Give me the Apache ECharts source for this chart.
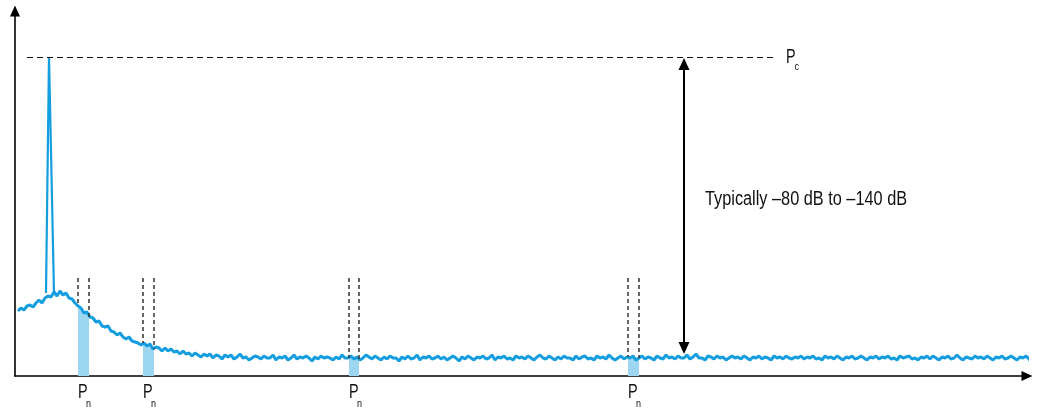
<!DOCTYPE html>
<html>
<head>
<meta charset="utf-8">
<script src="https://cdn.jsdelivr.net/npm/echarts@6/dist/echarts.min.js"></script>
<style>
  html, body { margin: 0; padding: 0; background: #fff; }
  #chart { width: 1038px; height: 408px; }
</style>
</head>
<body>
<div id="chart"></div>
<script>
// spectrum trace: x starts at 3, step 3 (same units as the x axis)
var traceStart = 3;
var traceStep = 3;
var traceLevel = [
    65, 68, 66, 70, 71, 69, 73, 76, 73, 78, 80, 79, 84, 80, 85, 81, 83, 78, 77, 73,
    70, 68, 63, 64, 59, 58, 54, 55, 50, 49, 50, 45, 44, 41, 43, 39, 37, 39, 35, 34,
    33, 31, 33, 30, 32, 27, 29, 28, 25, 28, 25, 27, 24, 25, 22, 25, 22, 23, 20, 23,
    21, 19, 22, 20, 22, 18, 21, 20, 17, 21, 19, 21, 17, 19, 22, 18, 19, 16, 18, 20,
    19, 17, 20, 18, 18, 21, 16, 19, 18, 20, 16, 18, 21, 17, 19, 18, 20, 18, 15, 19,
    17, 20, 18, 19, 18, 16, 19, 17, 21, 18, 18, 20, 17, 19, 16, 18, 21, 19, 17, 20,
    18, 16, 19, 17, 20, 18, 18, 15, 19, 17, 20, 17, 18, 21, 16, 19, 18, 20, 17, 18,
    20, 17, 19, 16, 18, 20, 18, 15, 19, 17, 20, 18, 16, 19, 18, 20, 17, 18, 21, 16,
    19, 18, 20, 17, 18, 16, 20, 18, 19, 17, 20, 18, 16, 19, 21, 18, 17, 20, 18, 16,
    19, 17, 20, 18, 18, 16, 20, 17, 19, 20, 17, 18, 16, 20, 18, 19, 17, 21, 18, 16,
    18, 20, 17, 19, 18, 20, 16, 18, 20, 17, 19, 18, 16, 20, 18, 17, 21, 18, 19, 17,
    20, 18, 18, 21, 17, 19, 22, 18, 18, 16, 20, 19, 17, 20, 18, 19, 16, 18, 20, 18,
    19, 17, 20, 18, 16, 19, 18, 20, 17, 19, 18, 16, 20, 18, 19, 17, 20, 18, 17, 19,
    18, 20, 17, 19, 18, 20, 17, 18, 16, 20, 18, 19, 17, 20, 18, 16, 19, 18, 20, 17,
    18, 20, 18, 16, 19, 18, 20, 17, 19, 18, 20, 17, 18, 16, 20, 18, 19, 20, 17, 18,
    16, 19, 18, 20, 17, 20, 18, 16, 19, 18, 20, 17, 18, 21, 18, 16, 19, 18, 17, 20,
    18, 19, 17, 20, 18, 16, 19, 18, 20, 17, 18, 20, 18, 16, 19, 18, 20, 17, 13
];
// carrier spike
var carrierX = [31, 34, 36, 39];
var carrierLevel = [83, 319, 319, 83];
// noise measurement bands [from, to]
var bands = [[63, 74], [128, 139], [334, 344], [613, 624]];
var bandTop = 98;
var carrierRef = 319;
var refLineX = [12, 762];
var spanArrow = {x: 669, from: 22, to: 318};
var spanText = 'Typically \u201380 dB to \u2013140 dB';

var font = '"Liberation Sans", Arial, sans-serif';
var blue = '#149ee0';
var lightBlue = '#9dd6f0';
var narrow = 0.815;
var headSize = [11, 12];

var trace = [];
for (var i = 0; i < traceLevel.length; i++) {
    trace.push([traceStart + i * traceStep, traceLevel[i]]);
}
var carrier = [];
for (var i = 0; i < carrierX.length; i++) {
    carrier.push([carrierX[i], carrierLevel[i]]);
}
var xFirst = trace[0][0];
var xLast = trace[trace.length - 1][0];

function levelAt(x) {
    var i = Math.round((x - traceStart) / traceStep);
    i = Math.max(0, Math.min(traceLevel.length - 1, i));
    return traceLevel[i];
}

// horizontal gradient with hard stops so the area only shows inside the bands
var clear = 'rgba(157,214,240,0)';
var stops = [{offset: 0, color: clear}];
bands.forEach(function (b) {
    var a = (b[0] - xFirst) / (xLast - xFirst);
    var c = (b[1] - xFirst) / (xLast - xFirst);
    stops.push({offset: a, color: clear});
    stops.push({offset: a, color: lightBlue});
    stops.push({offset: c, color: lightBlue});
    stops.push({offset: c, color: clear});
});
stops.push({offset: 1, color: clear});

var guideLines = [];
bands.forEach(function (b) {
    guideLines.push([{coord: [b[0], bandTop]}, {coord: [b[0], levelAt(b[0])]}]);
    guideLines.push([{coord: [b[1], bandTop]}, {coord: [b[1], levelAt(b[1])]}]);
});

// markLine symbols are centred on the end points, so pull the ends in by half a head
var half = headSize[1] / 2;

var myChart = echarts.init(document.getElementById('chart'));
option = {
    animation: false,
    grid: {left: 15, right: 11, top: 11, bottom: 32},
    xAxis: {
        type: 'value',
        min: 0,
        max: 1012,
        axisLine: {
            lineStyle: {color: '#000', width: 1.6},
            symbol: ['none', 'triangle'],
            symbolSize: [10, 11]
        },
        axisTick: {show: false},
        axisLabel: {show: false},
        splitLine: {show: false}
    },
    yAxis: {
        type: 'value',
        min: 0,
        max: 365,
        axisLine: {
            show: true,
            lineStyle: {color: '#000', width: 1.6},
            symbol: ['none', 'triangle'],
            symbolSize: [10, 11]
        },
        axisTick: {show: false},
        axisLabel: {show: false},
        splitLine: {show: false}
    },
    series: [
        {
            name: 'bands',
            type: 'line',
            z: 1,
            data: trace,
            symbol: 'none',
            silent: true,
            clip: false,
            lineStyle: {width: 0, opacity: 0},
            areaStyle: {
                origin: 'start',
                opacity: 1,
                color: {type: 'linear', x: 0, y: 0, x2: 1, y2: 0, colorStops: stops}
            },
            markLine: {
                silent: true,
                symbol: ['none', 'none'],
                label: {show: false},
                lineStyle: {color: '#333', type: [4, 3], width: 1.5},
                data: guideLines.concat([
                    [{coord: [refLineX[0], carrierRef], lineStyle: {type: [6, 4], color: '#111', width: 1.2}},
                     {coord: [refLineX[1], carrierRef]}],
                    [{coord: [spanArrow.x, spanArrow.from + half], symbol: 'triangle', symbolSize: headSize,
                      lineStyle: {type: 'solid', color: '#000', width: 2}},
                     {coord: [spanArrow.x, spanArrow.to - half], symbol: 'triangle', symbolSize: headSize}]
                ])
            }
        },
        {
            name: 'trace',
            type: 'line',
            z: 3,
            clip: false,
            data: trace,
            symbol: 'none',
            lineStyle: {color: blue, width: 3}
        },
        {
            name: 'carrier',
            type: 'line',
            z: 3,
            data: carrier,
            symbol: 'none',
            lineStyle: {color: blue, width: 2.2}
        }
    ]
};
myChart.setOption(option);

// text labels, anchored at data coordinates
function px(x, y) {
    return myChart.convertToPixel({gridIndex: 0}, [x, y]);
}
function label(p, text, size, scale) {
    return {
        type: 'text', x: p[0], y: p[1], scaleX: scale, silent: true, z: 10,
        style: {text: text, fontFamily: font, fontSize: size, fill: '#111',
                align: 'left', verticalAlign: 'middle'}
    };
}
function subLabel(p, main, s, subDx, subDy) {
    return [
        label(p, main, 20, 0.72),
        label([p[0] + subDx, p[1] + subDy], s, 10, 0.9)
    ];
}
var graphics = [];
bands.forEach(function (b) {
    graphics = graphics.concat(subLabel(px(b[0], -16), 'P', 'n', 8, 12));
});
graphics = graphics.concat(subLabel(px(refLineX[1] + 9, carrierRef), 'P', 'c', 8.5, 10.5));
graphics.push(label(px(spanArrow.x + 21, 177), spanText, 20, narrow));
myChart.setOption({graphic: graphics});
</script>
</body>
</html>
